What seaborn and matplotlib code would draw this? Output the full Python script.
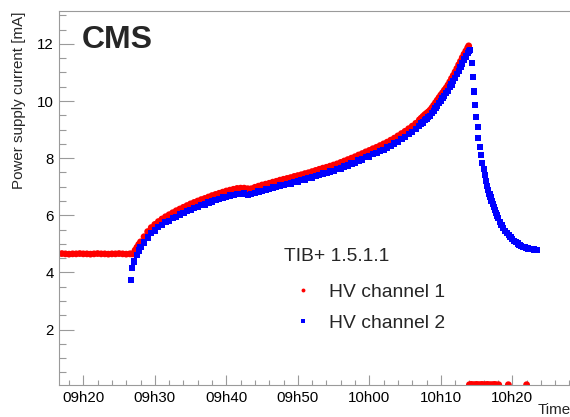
import numpy as np
import pandas as pd
import matplotlib
matplotlib.use("Agg")
import matplotlib.pyplot as plt
import matplotlib.dates as mdates
from matplotlib.lines import Line2D
from matplotlib.ticker import MultipleLocator
import seaborn as sns

# ---------------------------------------------------------------------------
# HV power supply currents, TIB+ 1.5.1.1 (minutes after 09:00, current in mA)
# ---------------------------------------------------------------------------
ch1_minutes = [
    16.5, 17.0, 17.5, 18.0, 18.5, 19.0, 19.5, 20.0, 20.5, 21.0, 21.5,
    22.0, 22.5, 23.0, 23.5, 24.0, 24.5, 25.0, 25.5, 26.0, 26.5, 26.75,
    27.0, 27.25, 27.5, 27.75, 28.0, 28.5, 29.0, 29.5, 30.0, 30.5, 31.0,
    31.5, 32.0, 32.5, 33.0, 33.5, 34.0, 34.5, 35.0, 35.5, 36.0, 36.5,
    37.0, 37.5, 38.0, 38.5, 39.0, 39.5, 40.0, 40.5, 41.0, 41.5, 42.0,
    42.5, 43.0, 43.5, 44.0, 44.5, 45.0, 45.5, 46.0, 46.5, 47.0, 47.5,
    48.0, 48.5, 49.0, 49.5, 50.0, 50.5, 51.0, 51.5, 52.0, 52.5, 53.0,
    53.5, 54.0, 54.5, 55.0, 55.5, 56.0, 56.5, 57.0, 57.5, 58.0, 58.5,
    59.0, 59.5, 60.0, 60.5, 61.0, 61.5, 62.0, 62.5, 63.0, 63.5, 64.0,
    64.5, 65.0, 65.5, 66.0, 66.5, 67.0, 67.25, 67.5, 67.75, 68.0, 68.25,
    68.5, 68.75, 69.0, 69.25, 69.5, 69.75, 70.0, 70.25, 70.5, 70.75,
    71.0, 71.25, 71.5, 71.75, 72.0, 72.25, 72.5, 72.75, 73.0, 73.25,
    73.5, 73.75, 73.9,
    74.0, 74.25, 74.5, 74.75, 75.0, 75.25, 75.5, 75.75, 76.0, 76.25,
    76.5, 76.75, 77.0, 77.25, 77.5, 77.75, 78.1, 79.45, 82.0,
]
ch1_current = [
    4.65, 4.66, 4.65, 4.64, 4.65, 4.65, 4.66, 4.65, 4.65, 4.64, 4.65,
    4.66, 4.65, 4.65, 4.64, 4.65, 4.65, 4.66, 4.65, 4.64, 4.65, 4.65,
    4.65, 4.78, 4.88, 4.98, 5.07, 5.25, 5.43, 5.57, 5.68, 5.78, 5.87,
    5.95, 6.02, 6.09, 6.16, 6.22, 6.28, 6.34, 6.40, 6.45, 6.50, 6.55,
    6.59, 6.64, 6.69, 6.73, 6.77, 6.81, 6.85, 6.88, 6.91, 6.94, 6.95,
    6.95, 6.93, 6.93, 6.98, 7.02, 7.06, 7.09, 7.12, 7.16, 7.19, 7.23,
    7.26, 7.29, 7.32, 7.36, 7.39, 7.42, 7.46, 7.49, 7.53, 7.57, 7.61,
    7.65, 7.68, 7.72, 7.76, 7.80, 7.85, 7.90, 7.95, 8.00, 8.05, 8.11,
    8.16, 8.22, 8.27, 8.33, 8.38, 8.44, 8.50, 8.56, 8.63, 8.70, 8.78,
    8.86, 8.94, 9.03, 9.12, 9.22, 9.34, 9.40, 9.46, 9.52, 9.57, 9.62,
    9.68, 9.76, 9.85, 9.94, 10.03, 10.12, 10.21, 10.29, 10.38, 10.46,
    10.56, 10.67, 10.79, 10.90, 11.02, 11.14, 11.27, 11.39, 11.52, 11.64,
    11.75, 11.86, 11.93,
    0.07, 0.08, 0.07, 0.07, 0.08, 0.07, 0.07, 0.08, 0.07, 0.07,
    0.08, 0.07, 0.07, 0.07, 0.08, 0.07, 0.07, 0.07, 0.07,
]

ch2_minutes = [
    26.67, 26.85, 27.13, 27.47, 27.75, 28.0, 28.5, 29.0, 29.5, 30.0,
    30.5, 31.0, 31.5, 32.0, 32.5, 33.0, 33.5, 34.0, 34.5, 35.0, 35.5,
    36.0, 36.5, 37.0, 37.5, 38.0, 38.5, 39.0, 39.5, 40.0, 40.5, 41.0,
    41.5, 42.0, 42.5, 43.0, 43.5, 44.0, 44.5, 45.0, 45.5, 46.0, 46.5,
    47.0, 47.5, 48.0, 48.5, 49.0, 49.5, 50.0, 50.5, 51.0, 51.5, 52.0,
    52.5, 53.0, 53.5, 54.0, 54.5, 55.0, 55.5, 56.0, 56.5, 57.0, 57.5,
    58.0, 58.5, 59.0, 59.5, 60.0, 60.5, 61.0, 61.5, 62.0, 62.5, 63.0,
    63.5, 64.0, 64.5, 65.0, 65.5, 66.0, 66.5, 67.0, 67.25, 67.5, 67.75,
    68.0, 68.25, 68.5, 68.75, 69.0, 69.25, 69.5, 69.75, 70.0, 70.25,
    70.5, 70.75, 71.0, 71.25, 71.5, 71.75, 72.0, 72.25, 72.5, 72.75,
    73.0, 73.25, 73.5, 73.75, 73.9, 74.05,
    74.36, 74.5, 74.69, 74.78, 74.92, 75.16, 75.24, 75.48, 75.66, 75.8,
    76.0, 76.18, 76.32, 76.5, 76.65, 76.8, 76.95, 77.1, 77.25, 77.4,
    77.55, 77.7, 77.85, 78.0, 78.25, 78.5, 78.75, 79.0, 79.25, 79.5,
    79.75, 80.0, 80.25, 80.5, 80.75, 81.0, 81.25, 81.5, 81.75, 82.0,
    82.25, 82.5, 82.75, 83.0, 83.25, 83.45,
]
ch2_current = [
    3.74, 4.15, 4.38, 4.61, 4.77, 4.90, 5.05, 5.22, 5.38, 5.47,
    5.59, 5.66, 5.76, 5.81, 5.90, 5.95, 6.03, 6.07, 6.15, 6.19, 6.26,
    6.29, 6.36, 6.38, 6.45, 6.48, 6.54, 6.56, 6.62, 6.64, 6.69, 6.70,
    6.75, 6.74, 6.76, 6.72, 6.74, 6.77, 6.83, 6.85, 6.90, 6.91, 6.97,
    6.98, 7.04, 7.05, 7.10, 7.11, 7.17, 7.18, 7.23, 7.25, 7.30, 7.32,
    7.38, 7.40, 7.46, 7.47, 7.53, 7.55, 7.61, 7.64, 7.71, 7.74, 7.81,
    7.84, 7.92, 7.95, 8.03, 8.06, 8.14, 8.17, 8.25, 8.29, 8.37, 8.42,
    8.51, 8.57, 8.67, 8.73, 8.84, 8.91, 9.03, 9.13, 9.21, 9.25, 9.33,
    9.36, 9.43, 9.47, 9.57, 9.64, 9.75, 9.82, 9.93, 10.00, 10.10,
    10.17, 10.27, 10.35, 10.48, 10.58, 10.71, 10.81, 10.95, 11.06, 11.20,
    11.31, 11.45, 11.56, 11.67, 11.74, 11.78,
    11.34, 10.83, 10.33, 9.86, 9.44, 9.10, 8.71, 8.40, 8.11, 7.84,
    7.62, 7.41, 7.20, 7.02, 6.88, 6.75, 6.63, 6.51, 6.39, 6.28,
    6.18, 6.08, 5.99, 5.91, 5.77, 5.65, 5.55, 5.46, 5.38, 5.31,
    5.24, 5.17, 5.11, 5.06, 5.01, 4.97, 4.93, 4.90, 4.88, 4.86,
    4.84, 4.83, 4.81, 4.80, 4.79, 4.78,
]

channel_names = ["HV channel 1", "HV channel 2"]
channel_colors = {"HV channel 1": "#ff0000", "HV channel 2": "#0000ff"}
channel_markers = {"HV channel 1": "o", "HV channel 2": "s"}
channel_sizes = {"HV channel 1": 24, "HV channel 2": 20}
legend_title = "TIB+ 1.5.1.1"

day_start = pd.Timestamp("2012-06-01 09:00:00")


def clock(minutes):
    return day_start + pd.to_timedelta(np.asarray(minutes, dtype=float), unit="m")


def clock_at(minute):
    return day_start + pd.Timedelta(minutes=minute)


df = pd.concat(
    [
        pd.DataFrame({"time": clock(ch1_minutes), "current": ch1_current,
                      "channel": channel_names[0]}),
        pd.DataFrame({"time": clock(ch2_minutes), "current": ch2_current,
                      "channel": channel_names[1]}),
    ],
    ignore_index=True,
)

sns.set_style("ticks")
plt.rcParams["font.family"] = ["Liberation Sans", "DejaVu Sans"]

W, H = 570, 417
fig = plt.figure(figsize=(W / 100, H / 100), dpi=100)
ax = fig.add_axes([59 / W, 32 / H, (W - 59) / W, (385 - 11) / H])

sns.scatterplot(
    data=df, x="time", y="current", hue="channel", style="channel",
    size="channel", sizes=channel_sizes,
    palette=channel_colors, markers=channel_markers, linewidth=0,
    legend=False, ax=ax,
)

ax.set_xlim(clock_at(16.6), clock_at(88.07))
ax.set_ylim(0.06, 13.15)
ax.set_xlabel("")
ax.set_ylabel("")

ax.xaxis.set_major_locator(mdates.MinuteLocator(byminute=range(0, 60, 10)))
ax.xaxis.set_minor_locator(mdates.MinuteLocator(byminute=range(0, 60, 2)))
ax.xaxis.set_major_formatter(mdates.DateFormatter("%Hh%M"))
ax.yaxis.set_major_locator(MultipleLocator(2))
ax.yaxis.set_minor_locator(MultipleLocator(0.5))

grey = "#9a9a9a"
for side in ("left", "bottom", "top"):
    ax.spines[side].set_color(grey)
    ax.spines[side].set_linewidth(0.8)
ax.spines["right"].set_visible(False)

ax.tick_params(axis="x", which="major", direction="in", length=7.2, width=0.8,
               color=grey, labelsize=10.8, pad=4.5, labelcolor="black")
ax.tick_params(axis="x", which="minor", direction="in", length=3.6, width=0.8,
               color=grey)
ax.tick_params(axis="y", which="major", direction="in", length=10.8, width=0.8,
               color=grey, labelsize=10.8, pad=3.6, labelcolor="black")
ax.tick_params(axis="y", which="minor", direction="in", length=5.3, width=0.8,
               color=grey)

fig.text(12.5 / W, 1 - 11.5 / H, "Power supply current [mA]", rotation=90,
         ha="left", va="top", fontsize=10.9)
fig.text(538 / W, 1 - 403 / H, "Time", ha="left", va="top", fontsize=10.9)
fig.text(82 / W, 1 - 48.3 / H, "CMS", ha="left", va="baseline",
         fontsize=23, fontweight="bold")

handles = [
    Line2D([], [], ls="none", marker=channel_markers[n], color=channel_colors[n],
           markeredgewidth=0, markersize=2.8 if n == channel_names[0] else 3.0)
    for n in channel_names
]
leg = ax.legend(
    handles, channel_names, title=legend_title, loc="upper left",
    bbox_to_anchor=(284 / W, 1 - 247.6 / H), bbox_transform=fig.transFigure,
    frameon=False, fontsize=13.9, title_fontsize=13.9, handlelength=2.0,
    handletextpad=0.33, borderpad=0, borderaxespad=0, labelspacing=0.71,
    alignment="left",
)
# extra room between the legend title and its first entry
leg._legend_box.sep = 13.5

fig.savefig("out.png", dpi=100)
